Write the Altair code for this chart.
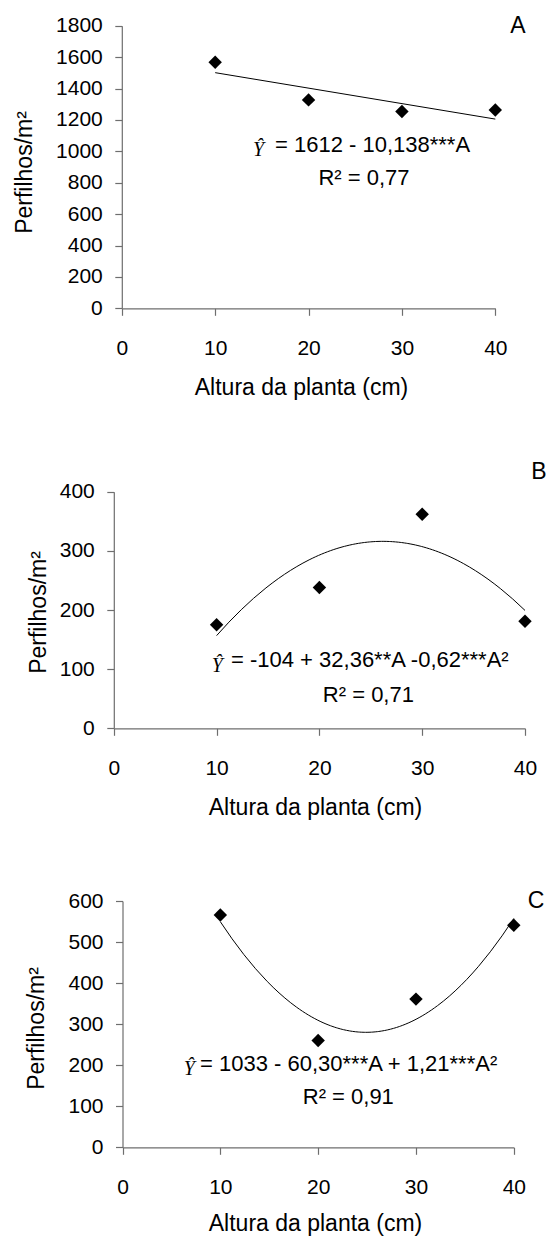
import altair as alt
import pandas as pd

# ---- data ----
heights = [10, 20, 30, 40]                 # Altura da planta (cm)
tillers_a = [1568, 1328, 1254, 1264]       # Perfilhos/m2, panel A
tillers_b = [175, 238, 362, 181]           # panel B
tillers_c = [566, 260, 361, 541]           # panel C

x_ticks = [0, 10, 20, 30, 40]
y_ticks_a = [0, 200, 400, 600, 800, 1000, 1200, 1400, 1600, 1800]
y_ticks_b = [0, 100, 200, 300, 400]
y_ticks_c = [0, 100, 200, 300, 400, 500, 600]

letters = ["A", "B", "C"]
equations = [
    "= 1612 - 10,138***A",
    "= -104 + 32,36**A -0,62***A²",
    "= 1033 - 60,30***A + 1,21***A²",
]
r2_texts = ["R² = 0,77", "R² = 0,71", "R² = 0,91"]

X_TITLE = "Altura da planta (cm)"
Y_TITLE = "Perfilhos/m²"

# ---- layout (pixels) ----
W, H = 547, 1237
FONT = "Liberation Sans"
AXIS_COLOR = "#6e6e6e"

layouts = [
    dict(x_range=[121.8, 495.3], y_range=[308.3, 25.8], y_dom=[0, 1800], y_ticks=y_ticks_a,
         ytx=-85.1, yty=172, xtx=301, xty=68.5, method="linear",
         letter=(518, 26), hat=(253, 155.5), eq=(275, 151.7), r2=(364, 185)),
    dict(x_range=[113.8, 525.0], y_range=[728.3, 491.7], y_dom=[0, 400], y_ticks=y_ticks_b,
         ytx=-63.3, yty=612, xtx=315, xty=68.5, method="poly",
         letter=(539, 472), hat=(211.8, 671.5), eq=(231, 667.3), r2=(368.4, 701.7)),
    dict(x_range=[122.5, 513.8], y_range=[1147.3, 901.0], y_dom=[0, 600], y_ticks=y_ticks_c,
         ytx=-73.8, yty=1028, xtx=315, xty=65.5, method="poly",
         letter=(536, 901), hat=(183.8, 1074.5), eq=(200, 1070.5), r2=(348.3, 1104)),
]
series = [tillers_a, tillers_b, tillers_c]


def panel(values, lay):
    df = pd.DataFrame({"h": heights, "p": values})
    x_axis = alt.Axis(orient="bottom", offset=lay["y_range"][0] - H, values=x_ticks, format="d",
                      title=X_TITLE, titleX=lay["xtx"], titleY=lay["xty"], labelPadding=22.2,
                      tickSize=7, grid=False, labelFlush=False, labelOverlap=False)
    y_axis = alt.Axis(orient="left", offset=-lay["x_range"][0], values=lay["y_ticks"], format="d",
                      title=Y_TITLE, titleX=lay["ytx"], titleY=lay["yty"], labelPadding=12.5,
                      tickSize=7, grid=False, labelFlush=False, labelOverlap=False)
    xenc = alt.X("h:Q", scale=alt.Scale(domain=[0, 40], range=lay["x_range"], nice=False, zero=False),
                 axis=x_axis)
    yenc = alt.Y("p:Q", scale=alt.Scale(domain=lay["y_dom"], range=lay["y_range"], nice=False, zero=False),
                 axis=y_axis)
    pts = alt.Chart(df).mark_point(shape="diamond", filled=True, size=180, color="black", opacity=1).encode(
        x=xenc, y=yenc)
    if lay["method"] == "linear":
        fit = alt.Chart(df).transform_regression("h", "p", method="linear", extent=[10, 40])
    else:
        fit = alt.Chart(df).transform_regression("h", "p", method="poly", order=2, extent=[10, 40])
    line = fit.mark_line(color="black", strokeWidth=1).encode(x=xenc, y=yenc)
    return alt.layer(line, pts)


def label(text, pos, size, align, baseline, font=FONT, style="normal"):
    return alt.Chart(pd.DataFrame({"_": [0]})).mark_text(
        text=text, font=font, fontSize=size, fontStyle=style, align=align, baseline=baseline,
        color="black").encode(x=alt.value(pos[0]), y=alt.value(pos[1]))


layers = []
for i, lay in enumerate(layouts):
    layers.append(panel(series[i], lay))
for i, lay in enumerate(layouts):
    layers.append(label(letters[i], lay["letter"], 23, "center", "middle"))
    layers.append(label("Ŷ", lay["hat"], 20, "left", "alphabetic", font="Liberation Serif", style="italic"))
    layers.append(label(equations[i], lay["eq"], 22, "left", "alphabetic"))
    layers.append(label(r2_texts[i], lay["r2"], 22, "center", "alphabetic"))

chart = alt.layer(*layers).resolve_scale(x="independent", y="independent").properties(
    width=W, height=H, autosize=alt.AutoSizeParams(type="none"), padding=0
).configure_view(stroke=None).configure_axis(
    domainColor=AXIS_COLOR, tickColor=AXIS_COLOR, domainWidth=1.2, tickWidth=1.2,
    labelFont=FONT, labelFontSize=21, labelColor="black",
    titleFont=FONT, titleFontSize=23, titleFontWeight="normal", titleColor="black",
)

chart.save("out.html", embed_options={"renderer": "svg", "actions": False})
